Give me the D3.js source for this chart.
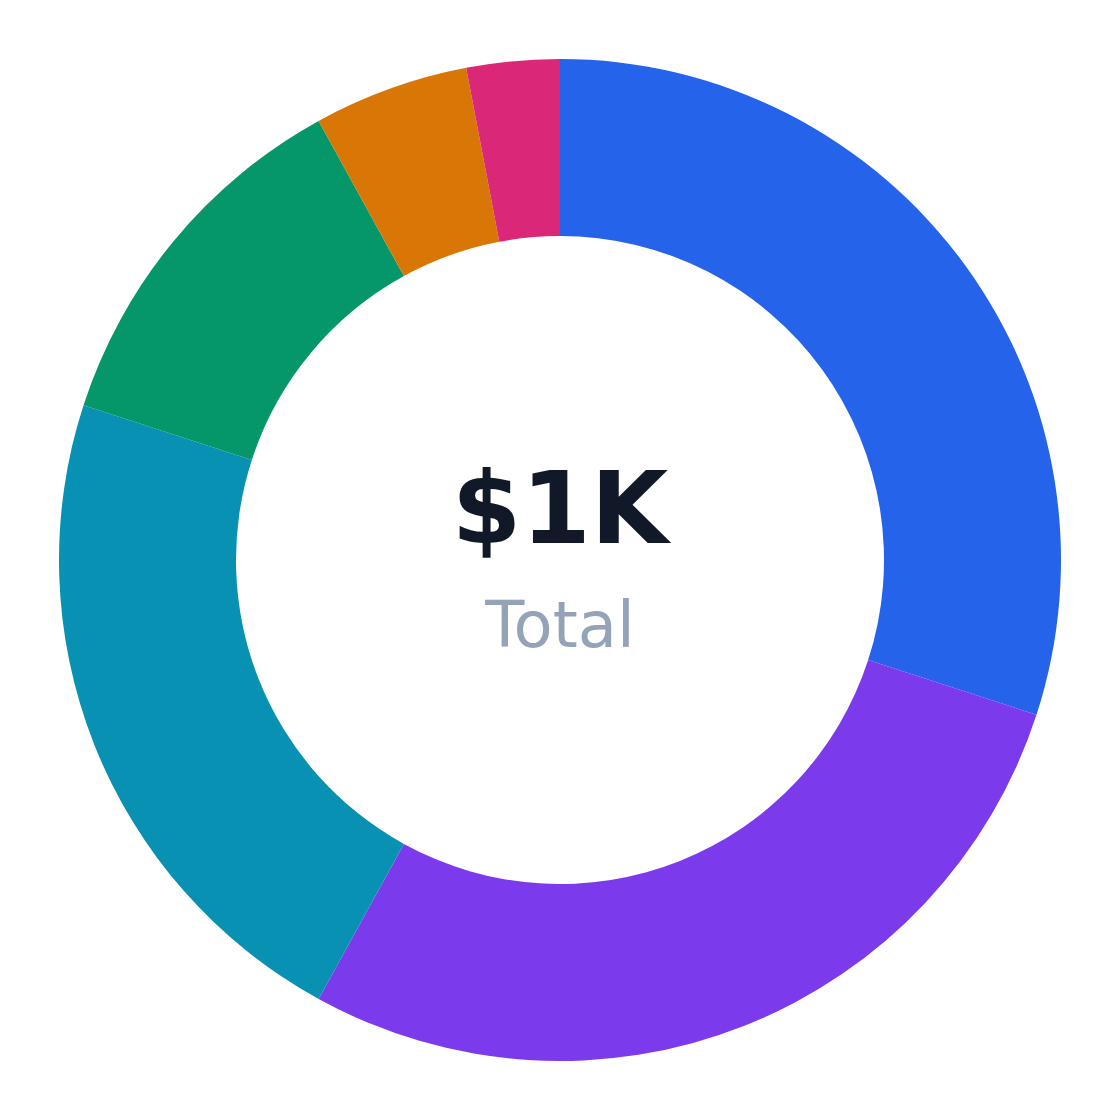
<!DOCTYPE html>
<html>
<head>
<meta charset="utf-8">
<script src="https://cdn.jsdelivr.net/npm/d3@7"></script>
<style>
  html, body { margin: 0; padding: 0; background: #fff; }
  svg { display: block; font-family: "DejaVu Sans", sans-serif; }
</style>
</head>
<body>
<div id="chart"></div>
<script>
// slice data, clockwise from 12 o'clock
var categories = ["A", "B", "C", "D", "E", "F"];
var values = [300, 280, 220, 120, 50, 30];
var colors = ["#2563eb", "#7c3aed", "#0891b2", "#059669", "#d97706", "#db2777"];
var centerValue = "$1K";
var centerLabel = "Total";

var width = 1120, height = 1120;
var cx = 560, cy = 560;
var outerR = 501, innerR = 324;

var svg = d3.select("#chart").append("svg")
    .attr("width", width)
    .attr("height", height);

var data = categories.map(function(c, i){ return {name: c, value: values[i], color: colors[i]}; });

var pie = d3.pie()
    .sort(null)
    .value(function(d){ return d.value; });

var arc = d3.arc()
    .innerRadius(innerR)
    .outerRadius(outerR);

var g = svg.append("g")
    .attr("transform", "translate(" + cx + "," + cy + ")");

g.selectAll("path")
    .data(pie(data))
    .enter()
    .append("path")
    .attr("d", arc)
    .attr("fill", function(d){ return d.data.color; });

g.append("text")
    .attr("x", 0)
    .attr("y", -17)
    .attr("text-anchor", "middle")
    .attr("font-size", "100px")
    .attr("font-weight", "bold")
    .attr("fill", "#111827")
    .text(centerValue);

g.append("text")
    .attr("x", 0)
    .attr("y", 87)
    .attr("text-anchor", "middle")
    .attr("font-size", "64px")
    .attr("fill", "#94a3b8")
    .text(centerLabel);
</script>
</body>
</html>
